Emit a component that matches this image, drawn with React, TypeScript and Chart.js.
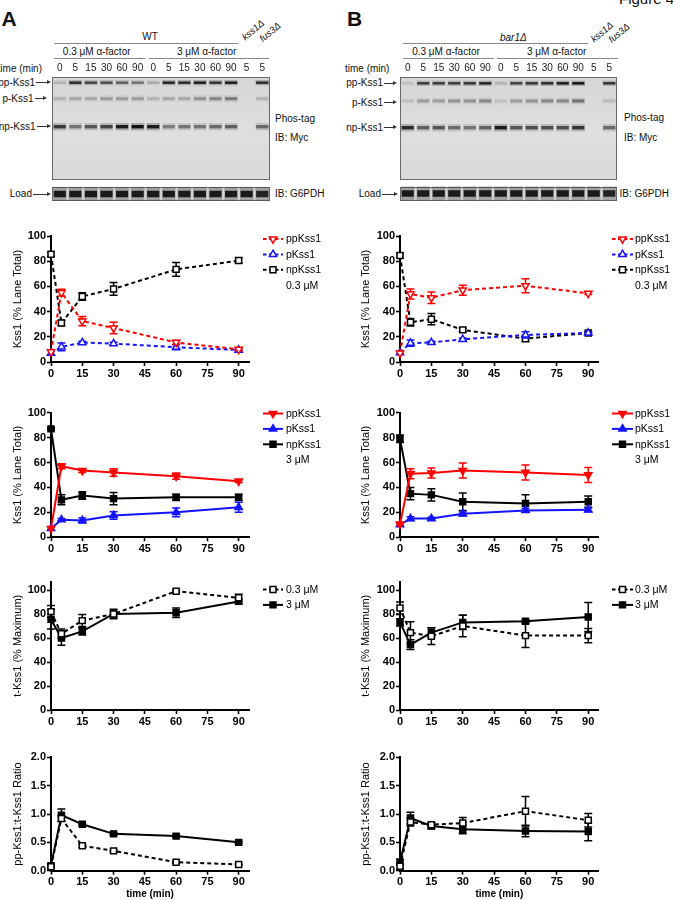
import React, { useEffect, useRef } from "react";
import { Chart, registerables } from "chart.js";
Chart.register(...registerables);

const FONT = "Arial, 'Liberation Sans', Helvetica, sans-serif";

// ---------------- data ----------------
const TIME_MIN = [0, 5, 15, 30, 60, 90];
const X_TICKS = [0, 15, 30, 45, 60, 75, 90];
const PCT_TICKS = [0, 20, 40, 60, 80, 100];
const RATIO_TICKS = [0, 0.5, 1.0, 1.5, 2.0];

// Panel A (WT) 0.3 uM
const A_LO_PP = [8, 55, 32.5, 27, 15.5, 10];
const A_LO_PP_ERR = [0, 2.7, 3.7, 4.5, 1.5, 0.8];
const A_LO_P = [7, 12, 15.4, 14.6, 11.7, 9.5];
const A_LO_P_ERR = [0, 3, 1, 1, 2, 1];
const A_LO_NP = [85.5, 31, 52, 58, 73.5, 80.5];
const A_LO_NP_ERR = [1.5, 2, 3, 5, 5.5, 2];
// Panel A 3 uM
const A_HI_PP = [7, 57, 53.5, 52, 49, 45];
const A_HI_PP_ERR = [0, 2, 1.5, 3, 2.5, 1];
const A_HI_P = [7, 14, 13.5, 17.5, 20, 24];
const A_HI_P_ERR = [0, 1, 2, 3, 3.5, 4];
const A_HI_NP = [87, 30, 33.5, 31, 32, 32];
const A_HI_NP_ERR = [1, 4, 3, 5, 2.5, 2.5];
// Panel A t-Kss1
const A_T_LO = [82, 63.5, 74.5, 80, 99, 93.5];
const A_T_LO_ERR = [5, 4, 5, 2, 1, 3];
const A_T_HI = [75.5, 60, 65.5, 80, 81, 90.5];
const A_T_HI_ERR = [8, 6, 3, 4, 4, 2];
// Panel A ratio
const A_R_LO = [0.07, 0.92, 0.44, 0.35, 0.15, 0.11];
const A_R_LO_ERR = [0.02, 0.05, 0.03, 0.02, 0.02, 0.01];
const A_R_HI = [0.09, 0.98, 0.82, 0.65, 0.61, 0.5];
const A_R_HI_ERR = [0.03, 0.11, 0.02, 0.02, 0.02, 0.02];

// Panel B (bar1Δ) 0.3 uM
const B_LO_PP = [7, 54, 51, 57, 60.5, 54.5];
const B_LO_PP_ERR = [0, 4, 4.5, 4, 5.5, 1];
const B_LO_P = [7.5, 15, 15.5, 18, 21.5, 23];
const B_LO_P_ERR = [0, 2.5, 1, 1, 2.5, 1];
const B_LO_NP = [84.5, 31.5, 34, 25.5, 18.5, 23];
const B_LO_NP_ERR = [1.5, 3, 4.5, 1.5, 2, 1];
// Panel B 3 uM
const B_HI_PP = [10.5, 51, 51.5, 53.5, 52, 50];
const B_HI_PP_ERR = [1, 4, 4, 6, 6, 6];
const B_HI_P = [10, 15, 15, 18.8, 21.5, 22];
const B_HI_P_ERR = [1, 1.5, 1, 1.5, 1.5, 1.5];
const B_HI_NP = [79, 35, 34, 28.5, 27, 28.5];
const B_HI_NP_ERR = [3, 5, 5, 7, 7, 4.5];
// Panel B t-Kss1
const B_T_LO = [85, 64.5, 61.5, 70, 62, 62];
const B_T_LO_ERR = [5, 9, 7, 9, 10, 6];
const B_T_HI = [73, 54.5, 64.5, 73, 74, 77.5];
const B_T_HI_ERR = [3, 4, 4, 6, 1, 12];
// Panel B ratio
const B_R_LO = [0.08, 0.86, 0.81, 0.84, 1.05, 0.89];
const B_R_LO_ERR = [0.04, 0.07, 0.03, 0.1, 0.26, 0.12];
const B_R_HI = [0.15, 0.93, 0.79, 0.73, 0.7, 0.69];
const B_R_HI_ERR = [0.05, 0.1, 0.05, 0.08, 0.1, 0.16];

// Blots: lane labels and band intensities (0..1)
const LANE_LABELS = ["0", "5", "15", "30", "60", "90", "0", "5", "15", "30", "60", "90", "5", "5"];
const A_BAND_PP = [0.15, 0.85, 0.7, 0.65, 0.55, 0.45, 0.2, 0.9, 0.85, 0.95, 0.8, 0.95, 0, 0.85];
const A_BAND_P = [0.15, 0.2, 0.2, 0.25, 0.25, 0.25, 0.15, 0.2, 0.2, 0.3, 0.35, 0.4, 0, 0.15];
const A_BAND_NP = [0.75, 0.45, 0.6, 0.7, 0.95, 1, 0.95, 0.4, 0.45, 0.45, 0.5, 0.55, 0, 0.5];
const A_BAND_LOAD = [0.95, 0.95, 0.95, 0.95, 0.95, 0.95, 0.95, 0.95, 0.95, 0.95, 0.95, 0.95, 0.95, 0.9];
const B_BAND_PP = [0.1, 0.75, 0.75, 0.75, 0.8, 0.9, 0.15, 0.7, 0.8, 0.85, 0.95, 1, 0, 0.8];
const B_BAND_P = [0.1, 0.25, 0.25, 0.3, 0.3, 0.35, 0.1, 0.25, 0.3, 0.35, 0.35, 0.45, 0, 0.12];
const B_BAND_NP = [0.85, 0.55, 0.6, 0.5, 0.45, 0.55, 0.95, 0.6, 0.65, 0.65, 0.65, 0.8, 0, 0.5];
const B_BAND_LOAD = [0.95, 0.95, 0.95, 0.95, 0.95, 0.95, 0.95, 0.95, 0.95, 0.95, 0.95, 0.95, 0.95, 0.9];
// band migration positions (gel units from top of gel)
const A_BAND_POS = { pp: 5.7, p: 21.7, np: 49.7, load: 117 };
const B_BAND_POS = { pp: 6.3, p: 24, np: 50.7, load: 116.5 };
const GEL_BOXES = [[0, 103], [110, 124]];

// ---------------- styles ----------------
const RED = "#ff0000";
const BLUE = "#1414ff";
const BLACK = "#000000";

type Series = {
  label: string;
  values: number[];
  errors: number[];
  color: string;
  dashed: boolean;
  shape: "triangle" | "rect";
  rotation: number;
  filled: boolean;
};

const mk = (label: string, values: number[], errors: number[], color: string, dashed: boolean, shape: "triangle" | "rect", rotation: number): Series => ({
  label, values, errors, color, dashed, shape, rotation, filled: !dashed,
});

const COLS: any = {
  A: { canvasLeft: 0, canvasW: 340, plotLeft: 51, plotRight: 249.1, titleX: 17.7, legX1: 263, legX2: 283, legTX: 286 },
  B: { canvasLeft: 340, canvasW: 333, plotLeft: 400, plotRight: 598.7, titleX: 366.2, legX1: 612, legX2: 633, legTX: 635 },
};
const ROWS: any[] = [
  { canvasTop: 222, canvasBottom: 386, plotTop: 236, plotBottom: 362, yMax: 100, yTicks: PCT_TICKS, title: "Kss1 (% Lane Total)", legTop: 239, dec: 0 },
  { canvasTop: 398, canvasBottom: 561, plotTop: 412.7, plotBottom: 537.2, yMax: 100, yTicks: PCT_TICKS, title: "Kss1 (% Lane Total)", legTop: 413.5, dec: 0 },
  { canvasTop: 570, canvasBottom: 734, plotTop: 581.6, plotBottom: 710, yMax: 107, yTicks: PCT_TICKS, title: "t-Kss1 (% Maximum)", legTop: 589.5, dec: 0 },
  { canvasTop: 742, canvasBottom: 900, plotTop: 757.3, plotBottom: 870.7, yMax: 2, yTicks: RATIO_TICKS, title: "pp-Kss1:t-Kss1 Ratio", legTop: 0, dec: 1, xTitle: "time (min)" },
];
const LEG_DY = 15.4;
const TRI_R = 4.2;
const SQ_R = 4.2;

function drawMarker(ctx: CanvasRenderingContext2D, s: Series, x: number, y: number) {
  ctx.beginPath();
  if (s.shape === "rect") {
    const h = SQ_R * Math.SQRT1_2;
    ctx.rect(x - h, y - h, 2 * h, 2 * h);
  } else {
    const d = s.rotation === 180 ? -1 : 1;
    const r = TRI_R;
    ctx.moveTo(x, y - d * r);
    ctx.lineTo(x + 0.866 * r, y + d * 0.5 * r);
    ctx.lineTo(x - 0.866 * r, y + d * 0.5 * r);
    ctx.closePath();
  }
  ctx.fillStyle = s.filled ? s.color : "#fff";
  ctx.fill();
  ctx.lineWidth = 1.5;
  ctx.strokeStyle = s.color;
  ctx.stroke();
}

const errorBarPlugin = {
  id: "errbars",
  beforeDatasetDraw(chart: any, args: any) {
    const ds = chart.data.datasets[args.index];
    const errs: number[] = ds.errors;
    if (!errs) return;
    const { ctx } = chart;
    const x = chart.scales.x;
    const y = chart.scales.y;
    ctx.save();
    ctx.strokeStyle = ds.borderColor;
    ctx.lineWidth = 1.5;
    ctx.setLineDash([]);
    ds.data.forEach((p: any, i: number) => {
      const e = errs[i];
      if (!e) return;
      const px = x.getPixelForValue(p.x);
      const y1 = y.getPixelForValue(p.y + e);
      const y2 = y.getPixelForValue(Math.max(p.y - e, 0));
      ctx.beginPath();
      ctx.moveTo(px, y1);
      ctx.lineTo(px, y2);
      ctx.moveTo(px - 4, y1);
      ctx.lineTo(px + 4, y1);
      ctx.moveTo(px - 4, y2);
      ctx.lineTo(px + 4, y2);
      ctx.stroke();
    });
    ctx.restore();
  },
};

type LegItem = { label: string; series?: Series };

function lineConfig(C: any, R: any, series: Series[], legend: LegItem[]): any {
  const W = C.canvasW;
  const padTop = R.plotTop - R.canvasTop;
  const padRight = C.canvasLeft + W - C.plotRight;
  const legendPlugin = {
    id: "kleg",
    afterDraw(chart: any) {
      const ctx = chart.ctx as CanvasRenderingContext2D;
      const x1 = C.legX1 - C.canvasLeft;
      const x2 = C.legX2 - C.canvasLeft;
      const tx = C.legTX - C.canvasLeft;
      legend.forEach((it, i) => {
        const y = R.legTop - R.canvasTop + i * LEG_DY;
        ctx.save();
        if (it.series) {
          const s = it.series;
          ctx.strokeStyle = s.color;
          ctx.lineWidth = 2;
          ctx.setLineDash(s.dashed ? [3.5, 2.5] : []);
          ctx.beginPath();
          ctx.moveTo(x1, y);
          ctx.lineTo(x2, y);
          ctx.stroke();
          ctx.setLineDash([]);
          drawMarker(ctx, s, (x1 + x2) / 2, y);
        }
        ctx.fillStyle = "#000";
        ctx.font = `10.5px ${FONT}`;
        ctx.textBaseline = "middle";
        ctx.textAlign = "left";
        ctx.fillText(it.label, tx, y + 0.5);
        ctx.restore();
      });
    },
  };
  const tickFont = { family: FONT, size: 11, weight: "bold" as const };
  return {
    type: "line",
    data: {
      datasets: series.map((s) => ({
        label: s.label,
        data: TIME_MIN.map((t, i) => ({ x: t, y: s.values[i] })),
        errors: s.errors,
        borderColor: s.color,
        backgroundColor: s.color,
        borderWidth: 2,
        borderDash: s.dashed ? [4, 3] : [],
        pointStyle: s.shape,
        pointRotation: s.rotation,
        pointRadius: s.shape === "rect" ? SQ_R : TRI_R,
        pointBackgroundColor: s.filled ? s.color : "#ffffff",
        pointBorderColor: s.color,
        pointBorderWidth: 1.5,
        tension: 0,
        clip: false,
      })),
    },
    options: {
      responsive: false,
      animation: false,
      events: [],
      layout: { padding: { top: padTop, right: padRight, left: 0, bottom: 0 } },
      plugins: { legend: { display: false }, tooltip: { enabled: false } },
      scales: {
        x: {
          type: "linear",
          min: 0,
          max: 95,
          afterBuildTicks: (s: any) => {
            s.ticks = X_TICKS.map((v) => ({ value: v }));
          },
          afterFit: (s: any) => {
            s.height = R.canvasBottom - R.plotBottom;
          },
          grid: { display: true, drawOnChartArea: false, drawTicks: true, tickLength: 4, tickWidth: 1.6, tickColor: "#000" },
          border: { display: true, color: "#000", width: 2 },
          ticks: { font: tickFont, color: "#000", padding: 1, maxRotation: 0, autoSkip: false },
          title: R.xTitle
            ? { display: true, text: R.xTitle, color: "#000", font: { family: FONT, size: 10, weight: "bold" }, padding: { top: 0, bottom: 0 } }
            : { display: false },
        },
        y: {
          type: "linear",
          min: 0,
          max: R.yMax,
          afterBuildTicks: (s: any) => {
            s.ticks = R.yTicks.map((v: number) => ({ value: v }));
          },
          afterFit: (s: any) => {
            s.width = C.plotLeft - C.canvasLeft;
          },
          grid: { display: true, drawOnChartArea: false, drawTicks: true, tickLength: 4, tickWidth: 1.6, tickColor: "#000" },
          border: { display: true, color: "#000", width: 2 },
          ticks: {
            font: tickFont,
            color: "#000",
            padding: 1,
            autoSkip: false,
            callback: (v: any) => Number(v).toFixed(R.dec),
          },
          title: {
            display: true,
            text: R.title,
            color: "#000",
            font: { family: FONT, size: 11 },
            padding: { top: C.titleX - C.canvasLeft - 6.6, bottom: 0 },
          },
        },
      },
    },
    plugins: [errorBarPlugin, legendPlugin],
  };
}

function LinePanel({ col, row, series, legend }: { col: string; row: number; series: Series[]; legend: LegItem[] }) {
  const ref = useRef<HTMLCanvasElement>(null);
  const C = COLS[col];
  const R = ROWS[row];
  const W = C.canvasW;
  const H = R.canvasBottom - R.canvasTop;
  useEffect(() => {
    const ch = new Chart(ref.current as HTMLCanvasElement, lineConfig(C, R, series, legend));
    return () => ch.destroy();
  }, []);
  return <canvas ref={ref} width={W} height={H} style={{ position: "absolute", left: C.canvasLeft, top: R.canvasTop, width: W, height: H }} />;
}

// ---------------- blot ----------------
function bandSets(vals: number[], pos: number, h: number) {
  const halo = {
    data: vals.map(() => [pos - h * 1.1, pos + h * 1.1]),
    backgroundColor: vals.map((v) => `rgba(30,30,30,${(v * 0.28).toFixed(3)})`),
    borderWidth: 0,
    grouped: false,
    barPercentage: 0.86,
    categoryPercentage: 1,
  };
  const core = {
    data: vals.map(() => [pos - h / 2, pos + h / 2]),
    backgroundColor: vals.map((v) => `rgba(15,15,15,${v.toFixed(3)})`),
    borderWidth: 0,
    grouped: false,
    barPercentage: 0.78,
    categoryPercentage: 1,
  };
  return [halo, core];
}

function BlotPanel({ left, width, bands, pos }: { left: number; width: number; bands: number[][]; pos: any }) {
  const ref = useRef<HTMLCanvasElement>(null);
  const top = 60;
  const H = 141;
  useEffect(() => {
    const gelPlugin = {
      id: "gel",
      beforeDatasetsDraw(chart: any) {
        const { ctx, chartArea } = chart;
        const y = chart.scales.y;
        GEL_BOXES.forEach(([a, b], i) => {
          const t = y.getPixelForValue(a);
          const bt = y.getPixelForValue(b);
          const g = ctx.createLinearGradient(0, t, 0, bt);
          g.addColorStop(0, i === 0 ? "#d6d6d6" : "#cbcbcb");
          g.addColorStop(0.5, i === 0 ? "#dfdfdf" : "#d6d6d6");
          g.addColorStop(1, i === 0 ? "#d9d9d9" : "#cccccc");
          ctx.fillStyle = g;
          ctx.fillRect(chartArea.left, t, chartArea.right - chartArea.left, bt - t);
          ctx.strokeStyle = "#6a6a6a";
          ctx.lineWidth = 1;
          ctx.strokeRect(chartArea.left + 0.5, t + 0.5, chartArea.right - chartArea.left - 1, bt - t - 1);
        });
      },
    };
    const cfg: any = {
      type: "bar",
      data: {
        labels: LANE_LABELS,
        datasets: [
          ...bandSets(bands[0], pos.pp, 2.4),
          ...bandSets(bands[1], pos.p, 3.0),
          ...bandSets(bands[2], pos.np, 3.4),
          ...bandSets(bands[3], pos.load, 6.5),
        ],
      },
      options: {
        responsive: false,
        animation: false,
        events: [],
        layout: { padding: 0 },
        plugins: { legend: { display: false }, tooltip: { enabled: false } },
        scales: {
          x: {
            type: "category",
            position: "top",
            offset: true,
            grid: { display: false, drawTicks: false },
            border: { display: false },
            ticks: { font: { family: FONT, size: 10 }, color: "#222", padding: 3, maxRotation: 0, autoSkip: false },
            afterFit: (s: any) => {
              s.height = 17;
            },
          },
          y: { display: false, min: 0, max: 124, reverse: true },
        },
      },
      plugins: [gelPlugin],
    };
    const ch = new Chart(ref.current as HTMLCanvasElement, cfg);
    return () => ch.destroy();
  }, []);
  return <canvas ref={ref} width={width} height={H} style={{ position: "absolute", left, top, width, height: H }} />;
}

// ---------------- html text helpers ----------------
function Txt({ x, y, children, size = 10, align = "left", weight = 400, italic = false, rotate = 0 }: any) {
  const tx = align === "left" ? "0" : align === "center" ? "-50%" : "-100%";
  return (
    <div
      style={{
        position: "absolute",
        left: x,
        top: y,
        transform: `translate(${tx},-50%) rotate(${rotate}deg)`,
        fontSize: size,
        fontWeight: weight,
        fontStyle: italic ? "italic" : "normal",
        whiteSpace: "nowrap",
        lineHeight: 1,
        color: "#111",
      }}
    >
      {children}
    </div>
  );
}

function HLine({ x1, x2, y }: any) {
  return <div style={{ position: "absolute", left: x1, top: y, width: x2 - x1, height: 1, background: "#8a8a8a" }} />;
}

function Arrow({ x1, x2, y }: any) {
  return (
    <>
      <div style={{ position: "absolute", left: x1, top: y - 0.5, width: x2 - x1 - 3, height: 1, background: "#333" }} />
      <div
        style={{
          position: "absolute",
          left: x2 - 4,
          top: y - 2.5,
          width: 0,
          height: 0,
          borderLeft: "4px solid #333",
          borderTop: "2.5px solid transparent",
          borderBottom: "2.5px solid transparent",
        }}
      />
    </>
  );
}

export default function App() {
  const aLo = [mk("ppKss1", A_LO_PP, A_LO_PP_ERR, RED, true, "triangle", 180), mk("pKss1", A_LO_P, A_LO_P_ERR, BLUE, true, "triangle", 0), mk("npKss1", A_LO_NP, A_LO_NP_ERR, BLACK, true, "rect", 0)];
  const aHi = [mk("ppKss1", A_HI_PP, A_HI_PP_ERR, RED, false, "triangle", 180), mk("pKss1", A_HI_P, A_HI_P_ERR, BLUE, false, "triangle", 0), mk("npKss1", A_HI_NP, A_HI_NP_ERR, BLACK, false, "rect", 0)];
  const aT = [mk("0.3 μM", A_T_LO, A_T_LO_ERR, BLACK, true, "rect", 0), mk("3 μM", A_T_HI, A_T_HI_ERR, BLACK, false, "rect", 0)];
  const aR = [mk("0.3 μM", A_R_LO, A_R_LO_ERR, BLACK, true, "rect", 0), mk("3 μM", A_R_HI, A_R_HI_ERR, BLACK, false, "rect", 0)];
  const bLo = [mk("ppKss1", B_LO_PP, B_LO_PP_ERR, RED, true, "triangle", 180), mk("pKss1", B_LO_P, B_LO_P_ERR, BLUE, true, "triangle", 0), mk("npKss1", B_LO_NP, B_LO_NP_ERR, BLACK, true, "rect", 0)];
  const bHi = [mk("ppKss1", B_HI_PP, B_HI_PP_ERR, RED, false, "triangle", 180), mk("pKss1", B_HI_P, B_HI_P_ERR, BLUE, false, "triangle", 0), mk("npKss1", B_HI_NP, B_HI_NP_ERR, BLACK, false, "rect", 0)];
  const bT = [mk("0.3 μM", B_T_LO, B_T_LO_ERR, BLACK, true, "rect", 0), mk("3 μM", B_T_HI, B_T_HI_ERR, BLACK, false, "rect", 0)];
  const bR = [mk("0.3 μM", B_R_LO, B_R_LO_ERR, BLACK, true, "rect", 0), mk("3 μM", B_R_HI, B_R_HI_ERR, BLACK, false, "rect", 0)];

  const leg3 = (s: Series[], conc: string): LegItem[] => [...s.map((x) => ({ label: x.label, series: x })), { label: conc }];
  const leg2 = (s: Series[]): LegItem[] => s.map((x) => ({ label: x.label, series: x }));

  return (
    <div style={{ position: "absolute", left: 0, top: 0, width: 673, height: 900, overflow: "hidden", background: "#fff", fontFamily: FONT }}>
      {/* figure header */}
      <Txt x={619} y={-1.7} size={15}>Figure 4</Txt>
      <Txt x={1.5} y={17.5} size={21} weight={700}>A</Txt>
      <Txt x={347} y={17.5} size={21} weight={700}>B</Txt>

      {/* ---- blot A ---- */}
      <Txt x={150} y={36.7} align="center">WT</Txt>
      <HLine x1={54} x2={238} y={42.5} />
      <Txt x={96.7} y={51.7} align="center">0.3 μM α-factor</Txt>
      <HLine x1={54} x2={145} y={57.5} />
      <Txt x={206.7} y={51.7} align="center">3 μM α-factor</Txt>
      <HLine x1={149} x2={269} y={57.5} />
      <Txt x={252.7} y={30} align="center" italic rotate={-40} size={9.5}>kss1Δ</Txt>
      <Txt x={270.3} y={32.3} align="center" italic rotate={-40} size={9.5}>fus3Δ</Txt>
      <Txt x={42} y={68.5} align="right">time (min)</Txt>
      <Txt x={35} y={82.7} align="right">pp-Kss1</Txt>
      <Arrow x1={36} x2={51} y={82.7} />
      <Txt x={33.5} y={98.7} align="right">p-Kss1</Txt>
      <Arrow x1={35} x2={47} y={98.7} />
      <Txt x={35.5} y={126.7} align="right">np-Kss1</Txt>
      <Arrow x1={37} x2={51} y={126.7} />
      <Txt x={32} y={194} align="right">Load</Txt>
      <Arrow x1={33} x2={51} y={194} />
      <Txt x={275} y={119.3}>Phos-tag</Txt>
      <Txt x={275} y={138}>IB: Myc</Txt>
      <Txt x={275} y={194}>IB: G6PDH</Txt>
      <BlotPanel left={52} width={218} bands={[A_BAND_PP, A_BAND_P, A_BAND_NP, A_BAND_LOAD]} pos={A_BAND_POS} />

      {/* ---- blot B ---- */}
      <Txt x={513.3} y={38} align="center" italic>bar1Δ</Txt>
      <HLine x1={403} x2={588} y={42.5} />
      <Txt x={446} y={51.7} align="center">0.3 μM α-factor</Txt>
      <HLine x1={403} x2={494} y={57.5} />
      <Txt x={556.7} y={51.7} align="center">3 μM α-factor</Txt>
      <HLine x1={497} x2={618} y={57.5} />
      <Txt x={601.7} y={31.7} align="center" italic rotate={-40} size={9.5}>kss1Δ</Txt>
      <Txt x={619.3} y={33.3} align="center" italic rotate={-40} size={9.5}>fus3Δ</Txt>
      <Txt x={345} y={68.5}>time (min)</Txt>
      <Txt x={383} y={83.3} align="right">pp-Kss1</Txt>
      <Arrow x1={384} x2={397} y={83.3} />
      <Txt x={383} y={102.5} align="right">p-Kss1</Txt>
      <Arrow x1={384} x2={397} y={102.5} />
      <Txt x={383} y={127.7} align="right">np-Kss1</Txt>
      <Arrow x1={384} x2={397} y={127.7} />
      <Txt x={381} y={194} align="right">Load</Txt>
      <Arrow x1={382} x2={398} y={194} />
      <Txt x={624} y={118.3}>Phos-tag</Txt>
      <Txt x={624} y={137.7}>IB: Myc</Txt>
      <Txt x={619.5} y={194}>IB: G6PDH</Txt>
      <BlotPanel left={400} width={217} bands={[B_BAND_PP, B_BAND_P, B_BAND_NP, B_BAND_LOAD]} pos={B_BAND_POS} />

      {/* ---- charts ---- */}
      <LinePanel col="A" row={0} series={aLo} legend={leg3(aLo, "0.3 μM")} />
      <LinePanel col="A" row={1} series={aHi} legend={leg3(aHi, "3 μM")} />
      <LinePanel col="A" row={2} series={aT} legend={leg2(aT)} />
      <LinePanel col="A" row={3} series={aR} legend={[]} />
      <LinePanel col="B" row={0} series={bLo} legend={leg3(bLo, "0.3 μM")} />
      <LinePanel col="B" row={1} series={bHi} legend={leg3(bHi, "3 μM")} />
      <LinePanel col="B" row={2} series={bT} legend={leg2(bT)} />
      <LinePanel col="B" row={3} series={bR} legend={[]} />
    </div>
  );
}
